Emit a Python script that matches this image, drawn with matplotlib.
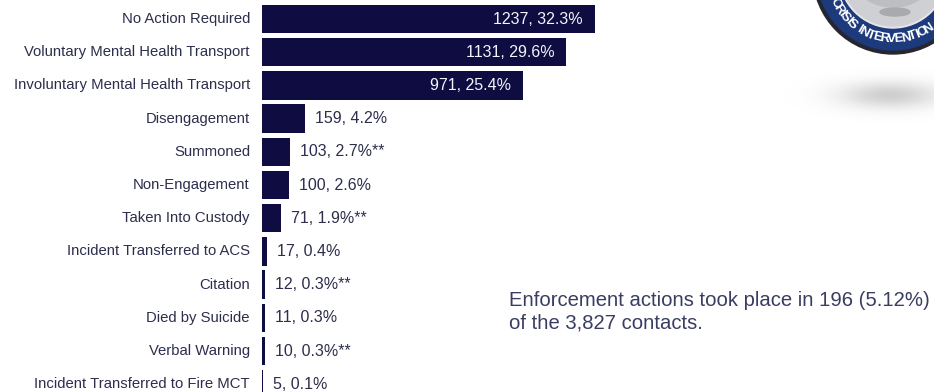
import numpy as np
import matplotlib.pyplot as plt
from matplotlib.patches import Circle, Ellipse

plt.rcParams['font.family'] = ['Liberation Sans', 'DejaVu Sans']

categories = ['No Action Required', 'Voluntary Mental Health Transport',
              'Involuntary Mental Health Transport', 'Disengagement', 'Summoned',
              'Non-Engagement', 'Taken Into Custody', 'Incident Transferred to ACS',
              'Citation', 'Died by Suicide', 'Verbal Warning',
              'Incident Transferred to Fire MCT']
counts = [1237, 1131, 971, 159, 103, 100, 71, 17, 12, 11, 10, 5]
pcts = [32.3, 29.6, 25.4, 4.2, 2.7, 2.6, 1.9, 0.4, 0.3, 0.3, 0.3, 0.1]
enforcement = [False, False, False, False, True, False, True, False, True, False, True, False]
note_lines = ['Enforcement actions took place in 196 (5.12%)',
              'of the 3,827 contacts.']

W, H = 934, 392
bar_color = '#0e0c40'
text_color = '#2c2e4c'

fig = plt.figure(figsize=(W / 100, H / 100), dpi=100)
fig.patch.set_facecolor('white')

# bar chart: 0.2692 px per contact, rows 33.2 px apart
px_per = 0.2692
row = 33.2
ax = fig.add_axes([262 / W, 0, (W - 262) / W, 1])
ax.set_xlim(0, (W - 262) / px_per)
ax.set_ylim((H - 19) / row, -19 / row)
y = np.arange(len(categories))
ax.barh(y, counts, height=0.86, color=bar_color)
ax.axis('off')

for i, (c, p, e) in enumerate(zip(counts, pcts, enforcement)):
    lab = f'{c}, {p}%' + ('**' if e else '')
    if c > 500:
        ax.text(c - 12 / px_per, i, lab, ha='right', va='center',
                color='#f4f4fa', fontsize=11.5)
    else:
        ax.text(c + 10 / px_per, i, lab, ha='left', va='center',
                color=text_color, fontsize=11.5)
    ax.text(-12 / px_per, i, categories[i], ha='right', va='center',
            color=text_color, fontsize=10.7, clip_on=False)

# overlay in pixel coordinates for the note and badge
ov = fig.add_axes([0, 0, 1, 1], zorder=-1)
ov.axis('off')

for k, line in enumerate(note_lines):
    ov.text(509, 301 + 22 * k, line, ha='left', va='center',
            color='#3a3d62', fontsize=14.6)

# soft shadow under the badge
gx, gy = np.meshgrid(np.linspace(-1, 1, 240), np.linspace(-1, 1, 100))
alpha = 0.43 * np.exp(-(gx ** 2) * 5.0 - (gy ** 2) * 9.0)
rgba = np.zeros(gx.shape + (4,))
rgba[..., :3] = 0.56
rgba[..., 3] = alpha
ov.imshow(rgba, extent=[780, 1000, 135, 55], aspect='auto',
          interpolation='bilinear')

# badge
cx, cy = 893, -26
ov.add_patch(Circle((cx, cy), 80, color='#26262e'))
ov.add_patch(Circle((cx, cy), 76, color='#1d3a7c'))
ov.add_patch(Circle((cx, cy), 54, color='#e6e6e8'))
ov.add_patch(Circle((cx, cy), 52, color='#cfd0d3'))
ov.add_patch(Ellipse((cx, cy + 10), 70, 46, color='#bdbec2'))
ov.add_patch(Ellipse((cx + 2, cy + 38), 30, 8, color='#a9aaae'))

ring = 'CRISIS INTERVENTION'
widths = {'I': 0.45, ' ': 0.55}
adv = np.array([widths.get(ch, 1.0) for ch in ring])
pos = np.concatenate([[0], np.cumsum((adv[:-1] + adv[1:]) / 2)])
# R sits at 147 deg, the final N at 57 deg
ang = 147 - (pos - pos[1]) * (147 - 57) / (pos[-1] - pos[1])
for ch, a in zip(ring, ang):
    th = np.radians(a)
    ov.text(cx + 65 * np.cos(th), cy + 65 * np.sin(th), ch,
            rotation=90 - a, ha='center', va='center',
            color='white', fontsize=9.5, fontweight='bold')

ov.set_xlim(0, W)
ov.set_ylim(H, 0)

fig.savefig('out.png', dpi=100)
